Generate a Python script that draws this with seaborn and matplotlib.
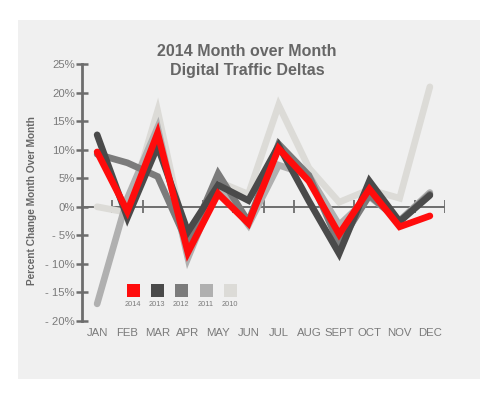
import matplotlib
matplotlib.use("Agg")
import matplotlib.pyplot as plt
from matplotlib.patches import Rectangle
import seaborn as sns
import pandas as pd

months = ["JAN", "FEB", "MAR", "APR", "MAY", "JUN", "JUL", "AUG", "SEPT", "OCT", "NOV", "DEC"]
y2014 = [9.6, -0.8, 12.9, -8.0, 2.3, -2.9, 10.2, 4.5, -4.8, 3.1, -3.5, -1.6]
y2013 = [12.6, -1.9, 10.6, -4.4, 3.8, 1.1, 10.7, 1.0, -8.2, 4.5, -2.6, 2.0]
y2012 = [9.2, 7.7, 5.3, -6.5, 5.8, -2.6, 11.0, 5.5, -6.5, 2.0, -2.5, 2.2]
y2011 = [-17.0, 1.5, 13.9, -9.0, 3.9, -3.2, 7.3, 5.5, -3.2, 1.8, -2.4, 2.5]
y2010 = [0.0, -1.0, 16.8, -7.5, 4.4, 2.2, 17.8, 6.8, 0.8, 3.0, 1.5, 21.0]
years = ["2010", "2011", "2012", "2013", "2014"]
yticks = [25, 20, 15, 10, 5, 0, -5, -10, -15, -20]
ytick_labels = ["25%", "20%", "15%", "10%", "5%", "0%", "- 5%", "- 10%", "- 15%", "- 20%"]
title = "2014 Month over Month\nDigital Traffic Deltas"
ylabel = "Percent Change Month Over Month"

colors = {"2014": "#ff0c0c", "2013": "#4a4a4a", "2012": "#7b7b7b",
          "2011": "#b0b0b0", "2010": "#dcdbd7"}

series = {"2010": y2010, "2011": y2011, "2012": y2012, "2013": y2013, "2014": y2014}
rows = []
for yr in years:
    for i, v in enumerate(series[yr]):
        rows.append({"month": i, "value": v, "year": yr})
df = pd.DataFrame(rows)

sns.set_style("white")
plt.rcParams["font.family"] = ["Liberation Sans", "DejaVu Sans"]

W, H = 500, 399
fig = plt.figure(figsize=(5.0, 3.99), dpi=100)
fig.patch.set_facecolor("white")
bg = Rectangle((18 / W, 1 - 379 / H), (480 - 18) / W, (379 - 20) / H,
               transform=fig.transFigure, facecolor="#f0f0f0",
               edgecolor="none", zorder=-10)
fig.patches.append(bg)

axl, axr = 82, 445
ayt, ayb = 64, 321
ax = fig.add_axes([axl / W, 1 - ayb / H, (axr - axl) / W, (ayb - ayt) / H])
ax.set_facecolor("none")
ax.set_zorder(1)

axis_col = "#6d6d6d"
ax.axhline(0, color=axis_col, lw=1.4, zorder=1)
ax.vlines([k + 0.5 for k in range(12)], -1.1, 1.1, color=axis_col, lw=1.3, zorder=1)

sns.lineplot(data=df, x="month", y="value", hue="year", hue_order=years,
             palette=colors, ax=ax, legend=False, linewidth=4.8,
             solid_capstyle="round", solid_joinstyle="miter", zorder=3)

ax.set_xlim(-0.5, 11.5)
ax.set_ylim(-20, 25)
ax.set_xticks(range(12))
ax.set_xticklabels(months)
ax.set_yticks(yticks)
ax.set_yticklabels(ytick_labels)
for s in ["top", "right", "bottom"]:
    ax.spines[s].set_visible(False)
ax.spines["left"].set_color(axis_col)
ax.spines["left"].set_linewidth(2.0)
ax.tick_params(axis="y", left=True, direction="inout", length=8, width=1.8, color=axis_col,
               labelsize=8.2, labelcolor="#7a7a7a", pad=1)
ax.tick_params(axis="x", bottom=False, length=0, labelsize=8.2, labelcolor="#7a7a7a", pad=5)
ax.set_xlabel("")
ax.set_ylabel(ylabel, fontsize=7.3, color="#666666", fontweight="bold")
ax.yaxis.set_label_coords(-0.125, 0.47)

fig.text(247 / W, 1 - 61 / H, title, ha="center", va="center", fontsize=11.5,
         fontweight="bold", color="#666666", linespacing=1.35)

# legend swatches
leg_x = [133, 157, 181, 206, 230]
leg_years = ["2014", "2013", "2012", "2011", "2010"]
for xp, yr in zip(leg_x, leg_years):
    fig.patches.append(Rectangle(((xp - 6.5) / W, 1 - 297 / H), 13 / W, 13 / H,
                                 transform=fig.transFigure, facecolor=colors[yr],
                                 edgecolor="none", zorder=5))
    fig.text(xp / W, 1 - 304 / H, yr, ha="center", va="center", fontsize=5.3,
             color="#7a7a7a", zorder=5)

fig.savefig("out.png", dpi=100, facecolor="white")
